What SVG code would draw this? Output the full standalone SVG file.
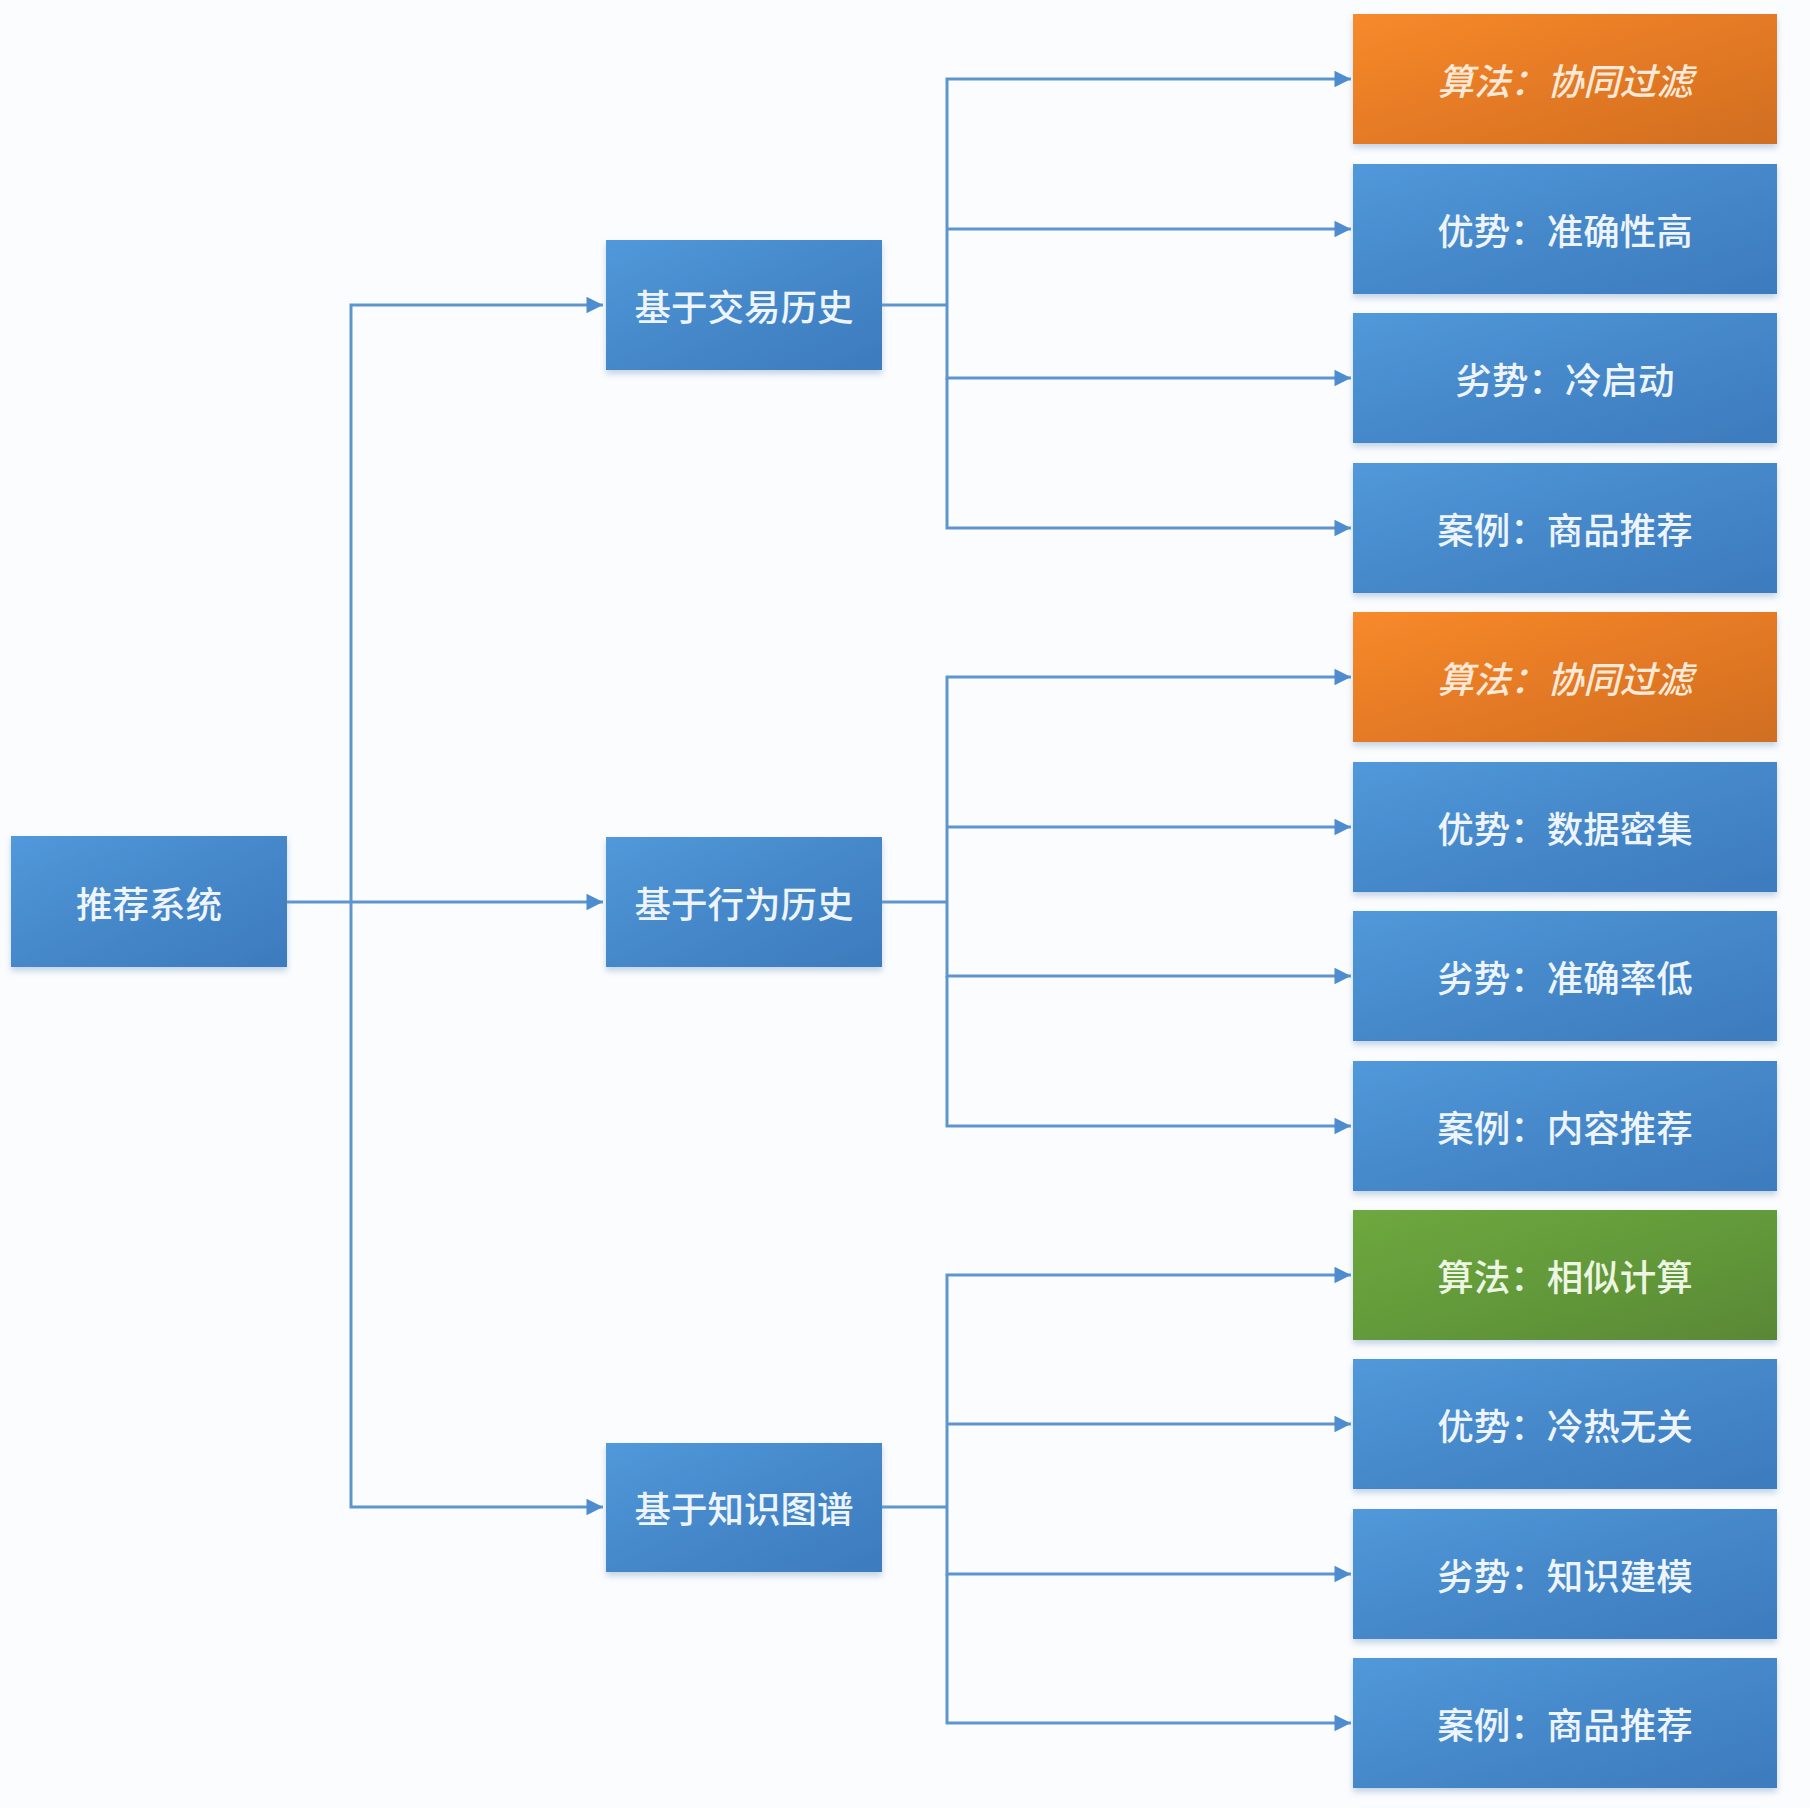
<svg xmlns="http://www.w3.org/2000/svg" width="1810" height="1808" viewBox="0 0 1810 1808">
<defs>
<linearGradient id="gBlue" x1="0" y1="0" x2="1" y2="1">
<stop offset="0" stop-color="#5199da"/>
<stop offset="0.5" stop-color="#4588ca"/>
<stop offset="1" stop-color="#3d7bbd"/>
</linearGradient>
<linearGradient id="gOrange" x1="0" y1="0" x2="1" y2="1">
<stop offset="0" stop-color="#f78a2a"/>
<stop offset="0.5" stop-color="#e57a25"/>
<stop offset="1" stop-color="#d06e22"/>
</linearGradient>
<linearGradient id="gGreen" x1="0" y1="0" x2="1" y2="1">
<stop offset="0" stop-color="#6ea83f"/>
<stop offset="0.5" stop-color="#639a3a"/>
<stop offset="1" stop-color="#598835"/>
</linearGradient>
<filter id="sh" x="-10%" y="-20%" width="120%" height="150%">
<feDropShadow dx="0" dy="4" stdDeviation="3" flood-color="#7f9fc4" flood-opacity="0.45"/>
</filter>
<marker id="arr" viewBox="0 0 10 10" refX="10" refY="5" markerWidth="6" markerHeight="5.5" markerUnits="strokeWidth" orient="auto">
<path d="M0,0 L10,5 L0,10 z" fill="#4d8cce"/>
</marker>
<style>
.conn{fill:none;stroke:#5f95cf;stroke-width:3;}
.box{filter:url(#sh);}
.blue{fill:url(#gBlue);}
.orange{fill:url(#gOrange);}
.green{fill:url(#gGreen);}
.t{font-family:"Noto Sans CJK SC","Noto Sans",sans-serif;font-size:36.5px;font-weight:500;fill:#eef4fb;text-anchor:middle;dominant-baseline:central;}
.it{font-style:italic;fill:#fbe9d8;}
.gt{fill:#edf5e3;}
</style>
</defs>
<rect width="1810" height="1808" fill="#fbfcfe"/>
<g id="connectors">
<path class="conn" d="M287,902 H603" marker-end="url(#arr)"/>
<path class="conn" d="M351,902 V305 H603" marker-end="url(#arr)"/>
<path class="conn" d="M351,902 V1507 H603" marker-end="url(#arr)"/>
<path class="conn" d="M882,305 H947"/>
<path class="conn" d="M947,305 V79 H1351" marker-end="url(#arr)"/>
<path class="conn" d="M947,229 H1351" marker-end="url(#arr)"/>
<path class="conn" d="M947,305 V378 H1351" marker-end="url(#arr)"/>
<path class="conn" d="M947,378 V528 H1351" marker-end="url(#arr)"/>
<path class="conn" d="M882,902 H947"/>
<path class="conn" d="M947,902 V677 H1351" marker-end="url(#arr)"/>
<path class="conn" d="M947,827 H1351" marker-end="url(#arr)"/>
<path class="conn" d="M947,902 V976 H1351" marker-end="url(#arr)"/>
<path class="conn" d="M947,976 V1126 H1351" marker-end="url(#arr)"/>
<path class="conn" d="M882,1507 H947"/>
<path class="conn" d="M947,1507 V1275 H1351" marker-end="url(#arr)"/>
<path class="conn" d="M947,1424 H1351" marker-end="url(#arr)"/>
<path class="conn" d="M947,1507 V1574 H1351" marker-end="url(#arr)"/>
<path class="conn" d="M947,1574 V1723 H1351" marker-end="url(#arr)"/>
</g>
<g id="root"><rect class="box blue" x="11" y="836" width="276" height="131"/><text class="t" x="149" y="902">推荐系统</text></g>
<g id="mid1"><rect class="box blue" x="606" y="240" width="276" height="130"/><text class="t" x="744" y="305">基于交易历史</text></g>
<g id="mid2"><rect class="box blue" x="606" y="837" width="276" height="130"/><text class="t" x="744" y="902">基于行为历史</text></g>
<g id="mid3"><rect class="box blue" x="606" y="1443" width="276" height="129"/><text class="t" x="744" y="1507">基于知识图谱</text></g>
<g id="leaf1"><rect class="box orange" x="1353" y="14" width="424" height="130"/><text class="t it" x="1565" y="79">算法：协同过滤</text></g>
<g id="leaf2"><rect class="box blue" x="1353" y="164" width="424" height="130"/><text class="t" x="1565" y="229">优势：准确性高</text></g>
<g id="leaf3"><rect class="box blue" x="1353" y="313" width="424" height="130"/><text class="t" x="1565" y="378">劣势：冷启动</text></g>
<g id="leaf4"><rect class="box blue" x="1353" y="463" width="424" height="130"/><text class="t" x="1565" y="528">案例：商品推荐</text></g>
<g id="leaf5"><rect class="box orange" x="1353" y="612" width="424" height="130"/><text class="t it" x="1565" y="677">算法：协同过滤</text></g>
<g id="leaf6"><rect class="box blue" x="1353" y="762" width="424" height="130"/><text class="t" x="1565" y="827">优势：数据密集</text></g>
<g id="leaf7"><rect class="box blue" x="1353" y="911" width="424" height="130"/><text class="t" x="1565" y="976">劣势：准确率低</text></g>
<g id="leaf8"><rect class="box blue" x="1353" y="1061" width="424" height="130"/><text class="t" x="1565" y="1126">案例：内容推荐</text></g>
<g id="leaf9"><rect class="box green" x="1353" y="1210" width="424" height="130"/><text class="t gt" x="1565" y="1275">算法：相似计算</text></g>
<g id="leaf10"><rect class="box blue" x="1353" y="1359" width="424" height="130"/><text class="t" x="1565" y="1424">优势：冷热无关</text></g>
<g id="leaf11"><rect class="box blue" x="1353" y="1509" width="424" height="130"/><text class="t" x="1565" y="1574">劣势：知识建模</text></g>
<g id="leaf12"><rect class="box blue" x="1353" y="1658" width="424" height="130"/><text class="t" x="1565" y="1723">案例：商品推荐</text></g>
</svg>
